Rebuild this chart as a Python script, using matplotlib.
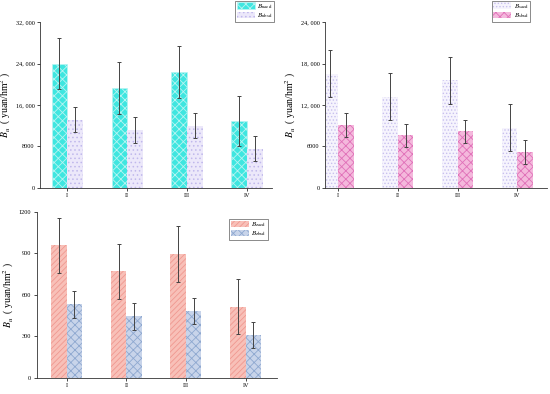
import numpy as np
import matplotlib
matplotlib.use("Agg")
from matplotlib import pyplot as plt
from matplotlib.ticker import FuncFormatter

plt.rcParams['font.family'] = ['Liberation Serif', 'DejaVu Serif']
plt.rcParams['mathtext.fontset'] = 'stix'
plt.rcParams['hatch.linewidth'] = 0.6

groups = ["I", "II", "III", "IV"]

# top-left panel
u_aed = [24000, 19200, 22400, 12900]
u_aed_err = [4900, 5000, 5000, 4900]
u_bsd = [13200, 11100, 12000, 7600]
u_bsd_err = [2500, 2500, 2400, 2400]

# top-right panel
s_aed = [16500, 13200, 15600, 8700]
s_aed_err = [3400, 3400, 3400, 3400]
s_bsd = [9100, 7600, 8200, 5200]
s_bsd_err = [1750, 1700, 1700, 1750]

# bottom panel
z_aed = [960, 771, 897, 514]
z_aed_err = [200, 200, 200, 198]
z_bsd = [533, 446, 481, 309]
z_bsd_err = [97, 97, 95, 93]


def thousands(v, pos):
    v = int(round(v))
    if v >= 10000:
        return f"{v // 1000}, {v % 1000:03d}"
    return str(v)


def panel(ax, a, ae, b, be, style_a, style_b, labels, ylim, yticks, xlim, legend_box):
    x = np.arange(len(groups))
    w = 0.26
    ax.bar(x - w / 2, a, w, **style_a, label=labels[0], zorder=2)
    ax.bar(x + w / 2, b, w, **style_b, label=labels[1], zorder=2)
    ax.errorbar(x - w / 2, a, yerr=ae, fmt="none", ecolor="#444444",
                elinewidth=0.7, capsize=1.5, capthick=0.7, zorder=3)
    ax.errorbar(x + w / 2, b, yerr=be, fmt="none", ecolor="#444444",
                elinewidth=0.7, capsize=1.5, capthick=0.7, zorder=3)
    ax.set_xticks(x)
    ax.set_xticklabels(groups)
    ax.set_xlim(*xlim)
    ax.set_ylim(*ylim)
    ax.set_yticks(yticks)
    ax.yaxis.set_major_formatter(FuncFormatter(thousands))
    ax.spines[['top', 'right']].set_visible(False)
    for s in ('left', 'bottom'):
        ax.spines[s].set_linewidth(0.6)
        ax.spines[s].set_color("#333333")
    ax.tick_params(labelsize=4.5, length=2, width=0.5, pad=2)
    ax.set_ylabel(r"$B_u$  ( yuan/hm$^2$ )", fontsize=7, labelpad=2)
    leg = ax.legend(loc="upper left", bbox_to_anchor=legend_box, fontsize=5,
                    frameon=True, fancybox=False, edgecolor="#333333",
                    handlelength=2.6, handleheight=1.0, borderpad=0.2,
                    labelspacing=0.1, handletextpad=0.4, borderaxespad=0)
    leg.get_frame().set_linewidth(0.5)


fig = plt.figure(figsize=(5.5, 3.94), dpi=100)

ax1 = fig.add_axes([0.073, 0.523, 0.422, 0.421])
panel(ax1, u_aed, u_aed_err, u_bsd, u_bsd_err,
      dict(facecolor="#3fe6e0", edgecolor="#b8f4f2", hatch="xxxx", linewidth=0.5),
      dict(facecolor="#ece8fa", edgecolor="#c0b8ec", hatch="....", linewidth=0),
      [r"$B_{\mathrm{uaed}}$", r"$B_{\mathrm{ubsd}}$"],
      (0, 32000), [0, 8000, 16000, 24000, 32000], (-0.45, 3.42), (0.84, 1.13))

ax2 = fig.add_axes([0.591, 0.523, 0.404, 0.421])
panel(ax2, s_aed, s_aed_err, s_bsd, s_bsd_err,
      dict(facecolor="#f6f4fd", edgecolor="#c8c0ee", hatch=".....", linewidth=0),
      dict(facecolor="#f4b8dc", edgecolor="#e070b8", hatch="xxxx", linewidth=0),
      [r"$B_{\mathrm{saed}}$", r"$B_{\mathrm{sbsd}}$"],
      (0, 24000), [0, 6000, 12000, 18000, 24000], (-0.22, 3.5), (0.75, 1.13))

ax3 = fig.add_axes([0.067, 0.041, 0.437, 0.421])
panel(ax3, z_aed, z_aed_err, z_bsd, z_bsd_err,
      dict(facecolor="#f8c0b8", edgecolor="#f09890", hatch="//////", linewidth=0),
      dict(facecolor="#c8d4ea", edgecolor="#8ea8d0", hatch="xxxx", linewidth=0),
      [r"$B_{\mathrm{zaed}}$", r"$B_{\mathrm{zbsd}}$"],
      (0, 1200), [0, 300, 600, 900, 1200], (-0.5, 3.53), (0.8, 0.96))

fig.savefig("out.png", dpi=100)
